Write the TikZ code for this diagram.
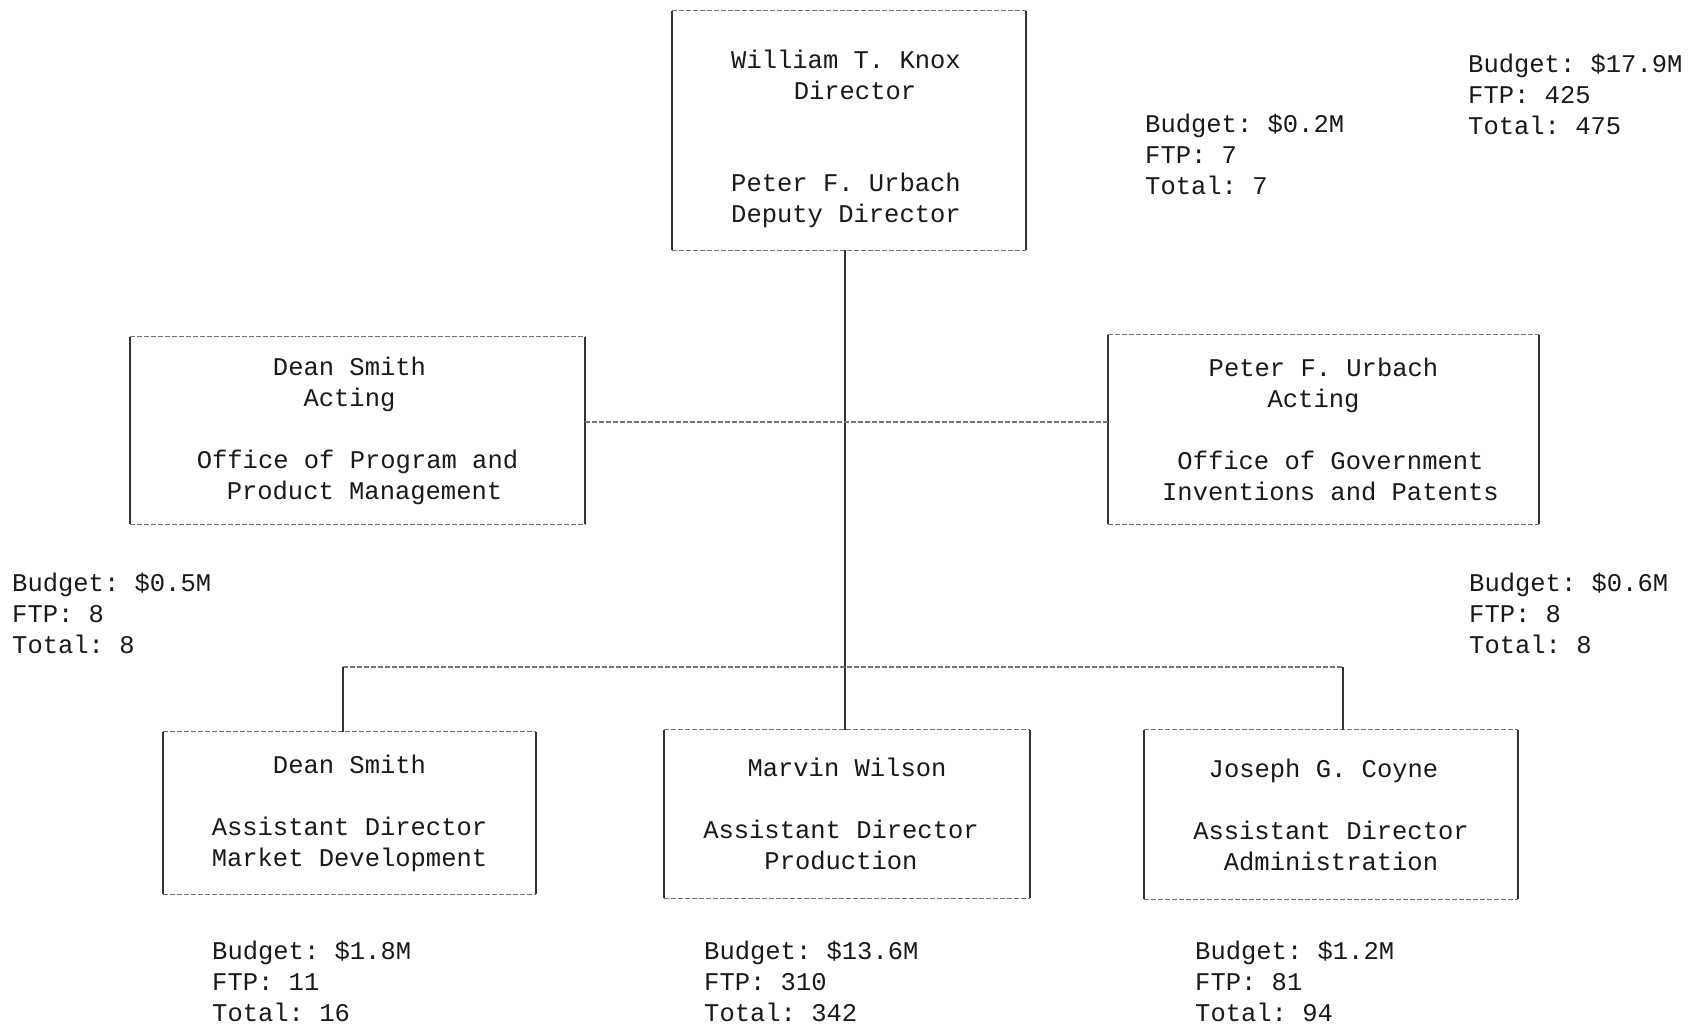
\documentclass[tikz,border=0pt]{standalone}
\usepackage{fontspec}
\newfontfamily\typew{Liberation Mono}
\begin{document}
\frenchspacing
\begin{tikzpicture}[x=1pt,y=-1pt,
  every node/.style={font=\typew\fontsize{25.5}{31}\selectfont\frenchspacing, inner sep=0pt, text=black!90},
  orgbox/.style={align=center},
  budget/.style={anchor=west, align=left},
  vedge/.style={line width=1.5pt, black!80},
  hedge/.style={line width=1.1pt, black!55, dash pattern=on 5pt off 2pt}]
\useasboundingbox[fill=white] (0,0) rectangle (1689,1024);

% boxes
\node[orgbox, minimum width=354pt, minimum height=239pt] (top) at (849,130.5)
  {\rule{0pt}{36pt}William T. Knox\kern6pt\\\kern12pt Director\\[61pt]Peter F. Urbach\kern6pt\\Deputy Director\kern6pt};
\node[orgbox, minimum width=455pt, minimum height=187pt] (left) at (357.5,430.5)
  {Dean Smith\kern16pt\\Acting\kern16pt\\[31pt]Office of Program and\\\kern14pt Product Management};
\node[orgbox, minimum width=431pt, minimum height=189pt] (right) at (1323.5,429.5)
  {Peter F. Urbach\\Acting\kern20pt\\[31pt]\kern14pt Office of Government\\\kern14pt Inventions and Patents};
\node[orgbox, minimum width=373pt, minimum height=162pt] (bl) at (349.5,813)
  {Dean Smith\\[31pt]Assistant Director\\Market Development};
\node[orgbox, minimum width=366pt, minimum height=168pt] (bm) at (847,814)
  {Marvin Wilson\\[31pt]Assistant Director\kern12pt\\Production\kern12pt};
\node[orgbox, minimum width=374pt, minimum height=169pt] (br) at (1331,814.5)
  {Joseph G. Coyne\kern15pt\\[31pt]Assistant Director\\Administration};

\foreach \n in {top,left,right,bl,bm,br}{
  \draw[vedge] (\n.north west) -- (\n.south west) (\n.north east) -- (\n.south east);
  \draw[hedge] (\n.north west) -- (\n.north east) (\n.south west) -- (\n.south east);
}

% budgets
\node[budget] (b0) at (1468,94) {Budget: \$17.9M\\FTP: 425\\Total: 475};
\node[budget] (b1) at (1145,154) {Budget: \$0.2M\\FTP: 7\\Total: 7};
\node[budget] (b2) at (12,613) {Budget: \$0.5M\\FTP: 8\\Total: 8};
\node[budget] (b3) at (1469,613) {Budget: \$0.6M\\FTP: 8\\Total: 8};
\node[budget] (b4) at (212,981) {Budget: \$1.8M\\FTP: 11\\Total: 16};
\node[budget] (b5) at (704,981) {Budget: \$13.6M\\FTP: 310\\Total: 342};
\node[budget] (b6) at (1195,981) {Budget: \$1.2M\\FTP: 81\\Total: 94};

% connectors
\coordinate (jn) at (845,422);
\coordinate (busL) at (343,667);
\coordinate (busR) at (1343,667);
\draw[vedge] (top.south -| jn) -- (bm.north -| jn);
\draw[hedge] (left.east |- jn) -- (right.west |- jn);
\draw[hedge] (busL) -- (busR);
\draw[vedge] (busL) -- (busL |- bl.north);
\draw[vedge] (busR) -- (busR |- br.north);
\end{tikzpicture}
\end{document}
